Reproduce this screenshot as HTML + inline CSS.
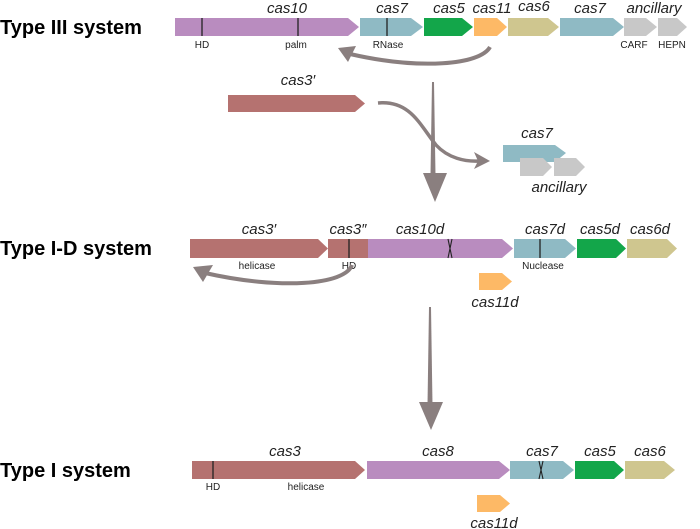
<!DOCTYPE html>
<html><head><style>
html,body{margin:0;padding:0;background:#fff;}
svg{display:block;}
text{font-family:"Liberation Sans",Arial,sans-serif;}
.l{font-size:15px;font-style:italic;fill:#222;text-anchor:middle;}
.s{font-size:10px;fill:#222;text-anchor:middle;}
.t{font-size:20px;font-weight:bold;fill:#000;}
</style></head><body>
<svg width="700" height="529" viewBox="0 0 700 529" xmlns="http://www.w3.org/2000/svg">
<text class="t" x="0" y="34">Type III system</text>
<text class="t" x="0" y="255">Type I-D system</text>
<text class="t" x="0" y="477">Type I system</text>

<g>
<polygon points="175,18 348,18 359,27 348,36 175,36" fill="#b98cbf"/>
<polygon points="360,18 411,18 423,27 411,36 360,36" fill="#8fbac4"/>
<polygon points="424,18 462,18 473,27 462,36 424,36" fill="#13a64a"/>
<polygon points="474,18 497,18 507,27 497,36 474,36" fill="#fdb966"/>
<polygon points="508,18 548,18 559,27 548,36 508,36" fill="#cfc68f"/>
<polygon points="560,18 613,18 624,27 613,36 560,36" fill="#8fbac4"/>
<polygon points="624,18 646,18 657,27 646,36 624,36" fill="#c8c8c8"/>
<polygon points="658,18 677,18 687,27 677,36 658,36" fill="#c8c8c8"/>
<line x1="202" y1="18" x2="202" y2="36" stroke="#222" stroke-width="1.3"/>
<line x1="298" y1="18" x2="298" y2="36" stroke="#222" stroke-width="1.3"/>
<line x1="387" y1="18" x2="387" y2="36" stroke="#222" stroke-width="1.3"/>
<text class="l" x="287" y="13">cas10</text>
<text class="l" x="392" y="13">cas7</text>
<text class="l" x="449" y="13">cas5</text>
<text class="l" x="492" y="13">cas11</text>
<text class="l" x="534" y="11">cas6</text>
<text class="l" x="590" y="13">cas7</text>
<text class="l" x="654" y="13">ancillary</text>
<text class="s" x="202" y="48">HD</text>
<text class="s" x="296" y="48">palm</text>
<text class="s" x="388" y="48">RNase</text>
<text class="s" x="634" y="48">CARF</text>
<text class="s" x="672" y="48">HEPN</text>
</g>
<path d="M490,47 C480,65 420,70 350,54" fill="none" stroke="#8a7f7f" stroke-width="4"/>
<polygon points="338,48 356,46 348,62" fill="#8a7f7f"/>

<polygon points="228,95 355,95 365,103.5 355,112 228,112" fill="#b57270"/>
<text class="l" x="298" y="85">cas3′</text>
<polygon points="432,82 434,82 435.5,175 430.5,175" fill="#8a7f7f"/>
<polygon points="423,173 447,173 435,202" fill="#8a7f7f"/>
<path d="M378,103 C410,100 420,125 436,145 C448,158 465,162 480,161" fill="none" stroke="#8a7f7f" stroke-width="3.5"/>
<polygon points="490,161 474,152 478,161 474,169" fill="#8a7f7f"/>
<polygon points="503,145 555,145 566,153 555,162 503,162" fill="#8fbac4"/>
<polygon points="520,158 543,158 552,167 543,176 520,176" fill="#c8c8c8"/>
<polygon points="554,158 576,158 585,167 576,176 554,176" fill="#c8c8c8"/>
<text class="l" x="537" y="138">cas7</text>
<text class="l" x="559" y="192">ancillary</text>

<polygon points="190,239 318,239 328,248.5 318,258 190,258" fill="#b57270"/>
<polygon points="328,239 368,239 368,258 328,258" fill="#b57270"/>
<polygon points="368,239 502,239 513,248.5 502,258 368,258" fill="#b98cbf"/>
<polygon points="514,239 565,239 576,248.5 565,258 514,258" fill="#8fbac4"/>
<polygon points="577,239 616,239 626,248.5 616,258 577,258" fill="#13a64a"/>
<polygon points="627,239 667,239 677,248.5 667,258 627,258" fill="#cfc68f"/>
<line x1="349" y1="239" x2="349" y2="258" stroke="#222" stroke-width="1.3"/>
<path d="M448,239 L452,258 M452,239 L448,258" stroke="#222" stroke-width="1.1" fill="none"/>
<line x1="540" y1="239" x2="540" y2="258" stroke="#222" stroke-width="1.3"/>
<text class="l" x="259" y="234">cas3′</text>
<text class="l" x="348" y="234">cas3″</text>
<text class="l" x="420" y="234">cas10d</text>
<text class="l" x="545" y="234">cas7d</text>
<text class="l" x="600" y="234">cas5d</text>
<text class="l" x="650" y="234">cas6d</text>
<text class="s" x="257" y="269">helicase</text>
<text class="s" x="349" y="269">HD</text>
<text class="s" x="543" y="269">Nuclease</text>
<polygon points="479,273 502,273 512,281.5 502,290 479,290" fill="#fdb966"/>
<text class="l" x="495" y="307">cas11d</text>
<path d="M352,265 C345,285 280,290 205,273" fill="none" stroke="#8a7f7f" stroke-width="4"/>
<polygon points="193,267 213,265 203,282" fill="#8a7f7f"/>
<polygon points="429,307 431,307 432.5,405 427.5,405" fill="#8a7f7f"/>
<polygon points="419,402 443,402 431,430" fill="#8a7f7f"/>

<polygon points="192,461 355,461 365,470 355,479 192,479" fill="#b57270"/>
<polygon points="367,461 499,461 510,470 499,479 367,479" fill="#b98cbf"/>
<polygon points="510,461 563,461 574,470 563,479 510,479" fill="#8fbac4"/>
<polygon points="575,461 614,461 624,470 614,479 575,479" fill="#13a64a"/>
<polygon points="625,461 664,461 675,470 664,479 625,479" fill="#cfc68f"/>
<line x1="213" y1="461" x2="213" y2="479" stroke="#222" stroke-width="1.3"/>
<path d="M539,461 L543,479 M543,461 L539,479" stroke="#222" stroke-width="1.1" fill="none"/>
<text class="l" x="285" y="456">cas3</text>
<text class="l" x="438" y="456">cas8</text>
<text class="l" x="542" y="456">cas7</text>
<text class="l" x="600" y="456">cas5</text>
<text class="l" x="650" y="456">cas6</text>
<text class="s" x="213" y="490">HD</text>
<text class="s" x="306" y="490">helicase</text>
<polygon points="477,495 500,495 510,503.5 500,512 477,512" fill="#fdb966"/>
<text class="l" x="494" y="528">cas11d</text>
</svg>
</body></html>
